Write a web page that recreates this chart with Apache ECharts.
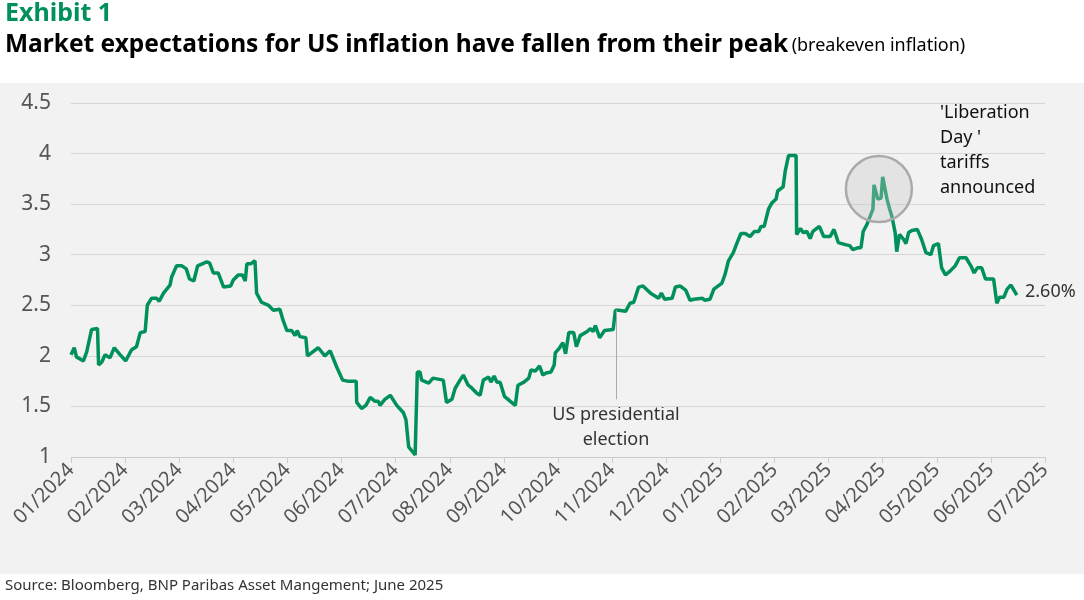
<!DOCTYPE html>
<html><head><meta charset="utf-8">
<script src="https://cdn.jsdelivr.net/npm/echarts@6/dist/echarts.min.js"></script>
<style>html,body{margin:0;padding:0;background:#fff}#c{width:1084px;height:600px}</style>
</head><body><div id="c"></div>
<script>
// x = months since 01/2024
const months = [0,0.06,0.10,0.23,0.29,0.38,0.49,0.51,0.57,0.63,0.72,0.80,0.91,1.01,1.12,1.21,1.28,1.37,1.41,1.49,1.58,1.63,1.71,1.83,1.86,1.95,2.05,2.13,2.19,2.27,2.34,2.51,2.56,2.63,2.72,2.82,2.95,3.00,3.09,3.17,3.22,3.25,3.32,3.40,3.43,3.52,3.65,3.74,3.86,3.92,3.99,4.08,4.14,4.18,4.23,4.34,4.37,4.57,4.69,4.79,4.91,5.02,5.11,5.27,5.28,5.37,5.45,5.53,5.62,5.68,5.71,5.80,5.90,6.02,6.14,6.19,6.24,6.36,6.40,6.45,6.48,6.61,6.69,6.88,6.94,7.04,7.10,7.19,7.25,7.34,7.41,7.50,7.56,7.62,7.72,7.76,7.82,7.87,7.93,8.01,8.12,8.21,8.26,8.37,8.46,8.50,8.58,8.66,8.72,8.78,8.87,8.93,8.95,9.03,9.09,9.14,9.20,9.29,9.34,9.41,9.54,9.60,9.65,9.69,9.77,9.86,10.02,10.06,10.12,10.25,10.33,10.40,10.49,10.57,10.71,10.86,10.91,10.97,11.11,11.17,11.26,11.36,11.44,11.51,11.67,11.71,11.81,11.88,12.03,12.09,12.15,12.24,12.31,12.38,12.46,12.55,12.63,12.71,12.75,12.81,12.89,12.95,13.03,13.06,13.16,13.20,13.26,13.40,13.41,13.48,13.53,13.60,13.66,13.71,13.83,13.91,14.03,14.10,14.18,14.31,14.39,14.45,14.55,14.60,14.64,14.71,14.82,14.84,14.91,14.97,15.00,15.08,15.13,15.17,15.23,15.26,15.31,15.39,15.43,15.48,15.54,15.64,15.72,15.80,15.89,15.94,16.03,16.09,16.16,16.25,16.34,16.42,16.54,16.63,16.69,16.75,16.83,16.90,17.05,17.11,17.16,17.24,17.30,17.37,17.48];
const breakeven = [2.01,2.08,1.99,1.95,2.04,2.26,2.27,1.91,1.94,2.01,1.98,2.08,2.01,1.95,2.06,2.09,2.23,2.24,2.50,2.57,2.57,2.54,2.62,2.70,2.78,2.89,2.89,2.86,2.76,2.74,2.89,2.93,2.92,2.82,2.82,2.68,2.69,2.75,2.80,2.80,2.74,2.91,2.91,2.94,2.62,2.53,2.50,2.45,2.46,2.35,2.25,2.25,2.20,2.25,2.19,2.18,2.00,2.08,2.00,2.05,1.89,1.76,1.75,1.75,1.54,1.48,1.51,1.59,1.55,1.55,1.51,1.57,1.61,1.51,1.44,1.37,1.10,1.02,1.84,1.84,1.76,1.73,1.78,1.76,1.54,1.57,1.68,1.76,1.81,1.71,1.68,1.63,1.61,1.76,1.79,1.74,1.80,1.74,1.74,1.60,1.55,1.51,1.71,1.74,1.78,1.86,1.85,1.90,1.81,1.83,1.84,1.91,2.03,2.08,2.13,2.02,2.23,2.23,2.09,2.20,2.24,2.27,2.24,2.30,2.18,2.25,2.26,2.45,2.45,2.44,2.52,2.53,2.68,2.69,2.62,2.57,2.62,2.56,2.57,2.68,2.69,2.65,2.55,2.56,2.57,2.55,2.56,2.66,2.72,2.81,2.94,3.02,3.12,3.21,3.21,3.18,3.23,3.23,3.28,3.28,3.45,3.51,3.55,3.63,3.67,3.83,3.98,3.98,3.20,3.26,3.22,3.23,3.16,3.23,3.28,3.18,3.18,3.25,3.12,3.10,3.09,3.05,3.07,3.07,3.23,3.30,3.45,3.69,3.55,3.56,3.77,3.55,3.45,3.38,3.22,3.03,3.20,3.15,3.11,3.22,3.24,3.25,3.15,3.02,3.00,3.09,3.11,2.87,2.80,2.84,2.89,2.97,2.97,2.89,2.82,2.87,2.87,2.76,2.76,2.52,2.58,2.58,2.66,2.70,2.60];
const yTicks = [1,1.5,2,2.5,3,3.5,4,4.5];
const electionX = 10.07, electionTop = 2.45, electionBottom = 1.57;
const libX = 14.93, libY = 3.65;

const chart = echarts.init(document.getElementById('c'));
const font = 'Noto Sans';
chart.setOption({
  backgroundColor: '#fff',
  animation: false,
  graphic: [
    {type:'rect', left:0, top:83, shape:{width:1084, height:491}, style:{fill:'#f2f2f2'}, z:-10},
    {type:'text', left:5, top:1, style:{text:'Exhibit 1', fill:'#00915a', font:'bold 25px "Noto Sans"'}},
    {type:'text', left:5, top:33, style:{rich:{a:{fill:'#000',font:'bold 24.5px "Noto Sans"'},b:{fill:'#000',font:'18px "Noto Sans"'}}, text:'{a|Market expectations for US inflation have fallen from their peak} {b|(breakeven inflation)}'}},
    {type:'text', left:5, top:578, style:{text:'Source: Bloomberg, BNP Paribas Asset Mangement; June 2025', fill:'#333', font:'15px "Noto Sans"'}},
    {type:'text', x:616, y:402, style:{text:'US presidential\nelection', fill:'#333', font:'18px "Noto Sans"', align:'center', lineHeight:25}},
    {type:'text', left:940, top:100, style:{text:"'Liberation\nDay '\ntariffs\nannounced", fill:'#111', font:'18px "Noto Sans"', lineHeight:25}},
    {type:'text', left:1025, top:283, style:{text:'2.60%', fill:'#333', font:'18px "Noto Sans"'}}
  ],
  grid: {left:71, right:39, top:103, bottom:143},
  xAxis: {
    type:'value', min:0, max:18, interval:1,
    axisLine:{show:true, lineStyle:{color:'#ccc'}},
    axisTick:{show:true, length:6, lineStyle:{color:'#ccc'}},
    splitLine:{show:false},
    axisLabel:{rotate:45, color:'#555', fontSize:20, fontFamily:font, margin:10,
      formatter: v => { const m = v % 12 + 1, y = 2024 + Math.floor(v/12); return String(m).padStart(2,'0') + '/' + y; }}
  },
  yAxis: {
    type:'value', min:1, max:4.5, interval:0.5,
    axisLine:{show:false}, axisTick:{show:false},
    splitLine:{lineStyle:{color:'#d6d6d6', width:1}},
    axisLabel:{color:'#555', fontSize:21, fontFamily:font, margin:20,
      formatter: v => yTicks.includes(v) ? String(v) : ''}
  },
  series: [{
    type:'line', data: months.map((m,i)=>[m, breakeven[i]]),
    showSymbol:false, lineStyle:{color:'#00915a', width:3.5}, itemStyle:{color:'#00915a'},
    markLine:{silent:true, symbol:'none', label:{show:false},
      lineStyle:{color:'#aaa', width:1, type:'solid'},
      data:[[{coord:[electionX, electionTop]},{coord:[electionX, electionBottom]}]]},
    markPoint:{silent:true, label:{show:false},
      data:[{coord:[libX, libY], symbol:'circle', symbolSize:66,
        itemStyle:{color:'rgba(200,200,200,0.35)', borderColor:'#aaa', borderWidth:2.5}}]}
  }]
});
</script></body></html>
